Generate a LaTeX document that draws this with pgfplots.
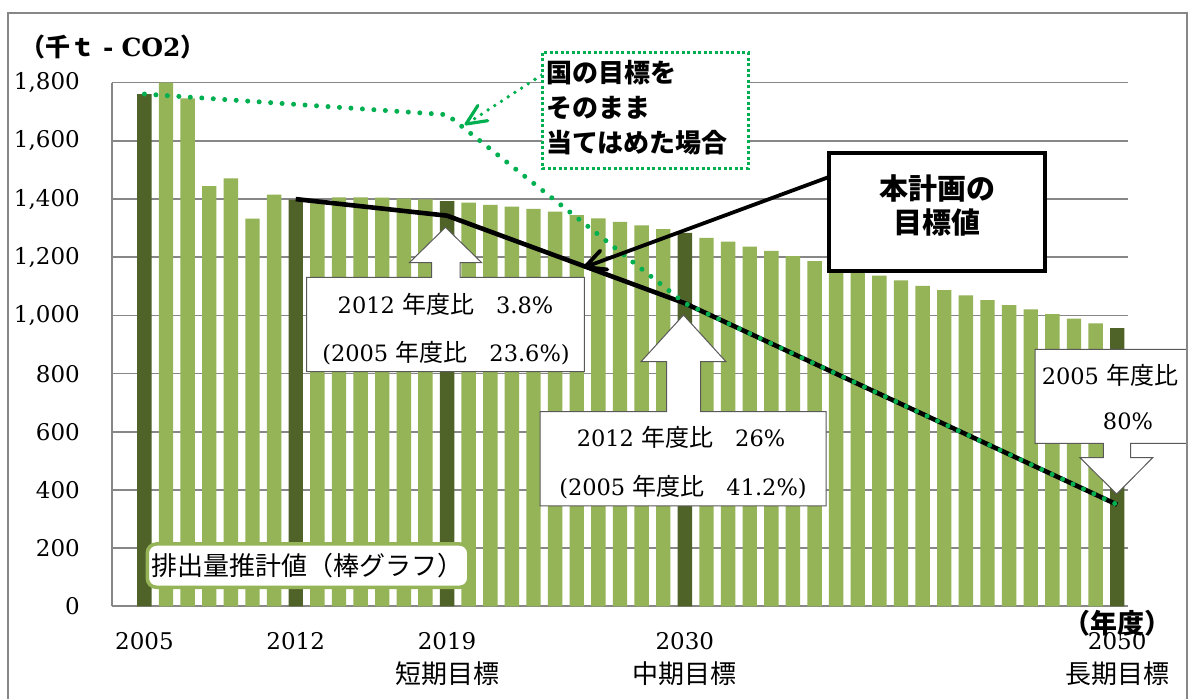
\documentclass[border=0pt]{standalone}
\usepackage{fontspec}
\setmainfont{DejaVu Serif}
\newfontfamily\jp{Noto Sans CJK JP}
\usepackage{pgfplots}
\pgfplotsset{compat=1.18}
\definecolor{darkbar}{HTML}{4F6228}
\definecolor{lightbar}{HTML}{95B357}
\definecolor{gridgray}{HTML}{878787}
\definecolor{dotgreen}{HTML}{00B050}
\newcommand{\fs}[2]{\fontsize{#1bp}{#2bp}\selectfont}
\begin{document}
\begin{tikzpicture}
\useasboundingbox (0,0) rectangle (1188bp,699bp);
\clip (0,0) rectangle (1188bp,699bp);
\fill[white] (0,0) rectangle (1188bp,699bp);
\begin{axis}[
  at={(112bp,92.5bp)}, anchor=south west,
  scale only axis, width=1016bp, height=523.8bp,
  xmin=2003.5, xmax=2050.5, ymin=0, ymax=1800,
  enlargelimits=false,
  ybar, bar width=14.4bp,
  axis lines*=left,
  axis line style={draw=gridgray, line width=2bp, -},
  ymajorgrids, grid style={draw=gridgray, line width=1.6bp},
  ytick={0,200,...,1800},
  xtick={2005,2012,2019,2030,2050},
  xticklabels={2005,2012,{2019\\{\jp\fs{26}{34}短期目標}},{2030\\{\jp\fs{26}{34}中期目標}},{2050\\{\jp\fs{26}{34}長期目標}}},
  major tick length=0pt,
  scaled y ticks=false,
  /pgf/number format/assume math mode=true,
  yticklabel style={font=\fs{23}{28}, anchor=east, inner sep=0pt, xshift=-32bp},
  xticklabel style={font=\fs{23}{34}, align=center, anchor=north, inner sep=0pt, yshift=-26bp},
]
\addplot[fill=lightbar, draw=none, bar shift=0pt] coordinates {
(2006,1800) (2007,1746) (2008,1445) (2009,1471) (2010,1333) (2011,1415)
(2013,1391) (2014,1406) (2015,1406) (2016,1405) (2017,1402) (2018,1399)
(2020,1388) (2021,1380) (2022,1374) (2023,1366) (2024,1357) (2025,1345)
(2026,1334) (2027,1322) (2028,1310) (2029,1297)
(2031,1267) (2032,1254) (2033,1237) (2034,1222) (2035,1204) (2036,1187)
(2037,1172) (2038,1155) (2039,1137) (2040,1121) (2041,1102) (2042,1087)
(2043,1069) (2044,1053) (2045,1036) (2046,1021) (2047,1005) (2048,989) (2049,973)
};
\addplot[fill=darkbar, draw=none, bar shift=0pt] coordinates {
(2005,1761) (2012,1398) (2019,1393) (2030,1284) (2050,957)
};
\addplot[sharp plot, black, line width=4.6bp, line join=round] coordinates {
(2012,1400) (2019,1343) (2030,1042) (2050,350)
};
\addplot[sharp plot, dotgreen, line width=5bp, dash pattern=on 0pt off 11.5bp, line cap=round] coordinates {
(2005,1761) (2019,1690) (2030,1042) (2050,350)
};
\end{axis}
\begin{scope}[x=1bp,y=-1bp,shift={(0bp,699bp)}]
% outer frame
\draw[gridgray, line width=2bp] (8,13) rectangle (1186.7,720);
% y unit label
\node[anchor=west, inner sep=0] at (20,47) {\fs{25}{30}{\jp\bfseries （千ｔ}\hspace{8bp}{\bfseries -}\hspace{8bp}{\bfseries CO2}{\jp\bfseries ）}};
% box A
\draw[dotgreen, line width=3.8bp, dash pattern=on 0pt off 8bp, line cap=round] (541.7,75) -- (468,123);
\draw[dotgreen, line width=3.2bp, line cap=round, line join=round] (487.7,120.7) -- (466,124) -- (477.9,105.5);
\draw[dotgreen, line width=3bp, dash pattern=on 3bp off 2.5bp, fill=white] (542.3,52.7) rectangle (748.3,168.3);
\node[anchor=west, inner sep=0] at (546,73) {\jp\bfseries\fs{26}{30}国の目標を};
\node[anchor=west, inner sep=0] at (546,108) {\jp\bfseries\fs{26}{30}そのまま};
\node[anchor=west, inner sep=0] at (546,143) {\jp\bfseries\fs{26}{30}当てはめた場合};
% box B
\draw[black, line width=3.8bp] (829,177) -- (588,266);
\draw[black, line width=3.8bp, line cap=round, line join=round] (600.3,250.7) -- (585,267) -- (607.3,269.5);
\draw[black, line width=4bp, fill=white] (829.3,153.3) rectangle (1045,270.7);
\node at (937,188) {\jp\bfseries\fs{29}{34}本計画の};
\node at (937,223) {\jp\bfseries\fs{29}{34}目標値};
% callout C
\filldraw[fill=white, draw=black!65, line width=1bp] (306.7,371.7) -- (306.7,277.3) -- (431.7,277.3) -- (431.7,262.7) -- (409.3,262.7) -- (445.5,227.3) -- (481.7,262.7) -- (460,262.7) -- (460,277.3) -- (584.4,277.3) -- (584.4,371.7) -- cycle;
\node at (445.5,304) {\fs{22.5}{27}2012 {\jp\fs{24}{27}年度比}\hspace{22bp}3.8\%};
\node at (446,352.7) {\fs{22.5}{27}(2005 {\jp\fs{24}{27}年度比}\hspace{22bp}23.6\%)};
% callout D
\filldraw[fill=white, draw=black!65, line width=1bp] (540,506) -- (540,411.7) -- (666.5,411.7) -- (666.5,361.7) -- (641,361.7) -- (683.5,315) -- (726,361.7) -- (700.5,361.7) -- (700.5,411.7) -- (826,411.7) -- (826,506) -- cycle;
\node at (681,437) {\fs{22.5}{27}2012 {\jp\fs{24}{27}年度比}\hspace{22bp}26\%};
\node at (683,487) {\fs{22.5}{27}(2005 {\jp\fs{24}{27}年度比}\hspace{22bp}41.2\%)};
% callout E
\filldraw[fill=white, draw=black!65, line width=1bp] (1035,349.3) -- (1200,349.3) -- (1200,443.3) -- (1130.7,443.3) -- (1130.7,457.7) -- (1152.7,457.7) -- (1116.7,494) -- (1080,457.7) -- (1103.3,457.7) -- (1103.3,443.3) -- (1035,443.3) -- cycle;
\draw[gridgray, line width=2bp] (1186.7,13) -- (1186.7,720);
\node at (1110,375) {\fs{22.5}{27}2005 {\jp\fs{24}{27}年度比}};
\node at (1128,421.7) {\fs{22.5}{27}80\%};
% label F
\draw[lightbar, line width=3.5bp, fill=white, rounded corners=9bp] (147.3,544) rectangle (468.8,587.3);
\node[anchor=west, inner sep=0] at (151,566) {\jp\fs{26}{30}排出量推計値（棒グラフ）};
% year unit
\node at (1117,623) {\jp\bfseries\fs{27}{30}（年度）};
\end{scope}
\end{tikzpicture}
\end{document}
